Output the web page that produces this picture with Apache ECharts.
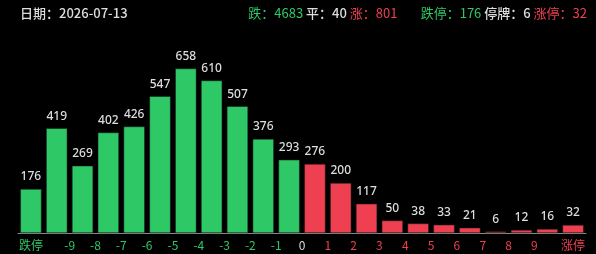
<!DOCTYPE html>
<html>
<head>
<meta charset="utf-8">
<script src="https://cdn.jsdelivr.net/npm/echarts@6/dist/echarts.min.js"></script>
<style>
  html, body { margin: 0; padding: 0; background: #000; }
  #chart { width: 596px; height: 254px; }
</style>
</head>
<body>
<div id="chart"></div>
<script>
// 涨跌分布
const categories = ['跌停', '<-9', '-9~-8', '-8~-7', '-7~-6', '-6~-5', '-5~-4', '-4~-3', '-3~-2', '-2~-1', '-1~0',
  '0~1', '1~2', '2~3', '3~4', '4~5', '5~6', '6~7', '7~8', '8~9', '>9', '涨停']
const values = [176, 419, 269, 402, 426, 547, 658, 610, 507, 376, 293,
  276, 200, 117, 50, 38, 33, 21, 6, 12, 16, 32]
// 刻度标签 (位置按格子边界计)
const tickPos = [0.5, 2, 3, 4, 5, 6, 7, 8, 9, 10, 11, 12, 13, 14, 15, 16, 17, 18, 19, 20, 21.5]
const tickLabels = ['跌停', '-9', '-8', '-7', '-6', '-5', '-4', '-3', '-2', '-1', '0',
  '1', '2', '3', '4', '5', '6', '7', '8', '9', '涨停']
const dateStr = '2026-07-13'
const stats = { down: 4683, flat: 40, up: 801, limitDown: 176, halt: 6, limitUp: 32 }

const GREEN = '#2ec866'
const RED = '#ee4050'
const WHITE = '#dddddd'
const FONT = '"Noto Sans CJK SC", sans-serif'

const chart = echarts.init(document.getElementById('chart'))

function labelText(v) {
  for (let i = 0; i < tickPos.length; i++) {
    if (Math.abs(tickPos[i] - v) < 1e-6) return tickLabels[i]
  }
  return ''
}
function labelColor(v) {
  const t = labelText(Number(v))
  if (t === '0') return WHITE
  if (t === '跌停' || t.charAt(0) === '-') return GREEN
  return RED
}

chart.setOption({
  backgroundColor: '#000',
  animation: false,
  graphic: [
    {
      type: 'text',
      left: 20,
      top: 7,
      style: { text: '日期：' + dateStr, fill: WHITE, font: '500 13px ' + FONT }
    },
    {
      type: 'text',
      right: 9,
      top: 7,
      style: {
        text: '{g|跌：' + stats.down + '} {w|平：' + stats.flat + '} {r|涨：' + stats.up + '}        ' +
          '{g|跌停：' + stats.limitDown + '} {w|停牌：' + stats.halt + '} {r|涨停：' + stats.limitUp + '}',
        font: '13px ' + FONT,
        rich: {
          g: { fill: GREEN, font: '13px ' + FONT },
          w: { fill: WHITE, font: '500 13px ' + FONT },
          r: { fill: RED, font: '13px ' + FONT }
        }
      }
    }
  ],
  grid: { left: 18, right: 10, top: 58, bottom: 21 },
  xAxis: [
    {
      type: 'category',
      data: categories,
      axisLine: { lineStyle: { color: '#888' } },
      axisTick: { interval: 0, length: 4, lineStyle: { color: '#888' } },
      axisLabel: { show: false }
    },
    {
      type: 'value',
      position: 'bottom',
      min: 0,
      max: categories.length,
      interval: 0.5,
      axisLine: { show: false },
      axisTick: { show: false },
      splitLine: { show: false },
      axisLabel: {
        margin: 6,
        fontSize: 12,
        fontFamily: FONT,
        formatter: v => labelText(v),
        color: v => labelColor(v)
      }
    }
  ],
  yAxis: {
    type: 'value',
    min: 0,
    max: 700,
    show: false,
    splitLine: { show: false }
  },
  series: [
    {
      type: 'bar',
      xAxisIndex: 0,
      barCategoryGap: '18%',
      data: values.map((v, i) => ({
        value: v,
        itemStyle: { color: i <= 10 ? GREEN : RED, borderColor: '#1a1a1a', borderWidth: 0.5 }
      })),
      label: {
        show: true,
        position: 'top',
        distance: 6,
        color: WHITE,
        fontSize: 12,
        fontWeight: 500,
        fontFamily: '"Noto Sans", sans-serif'
      }
    }
  ]
})
</script>
</body>
</html>
